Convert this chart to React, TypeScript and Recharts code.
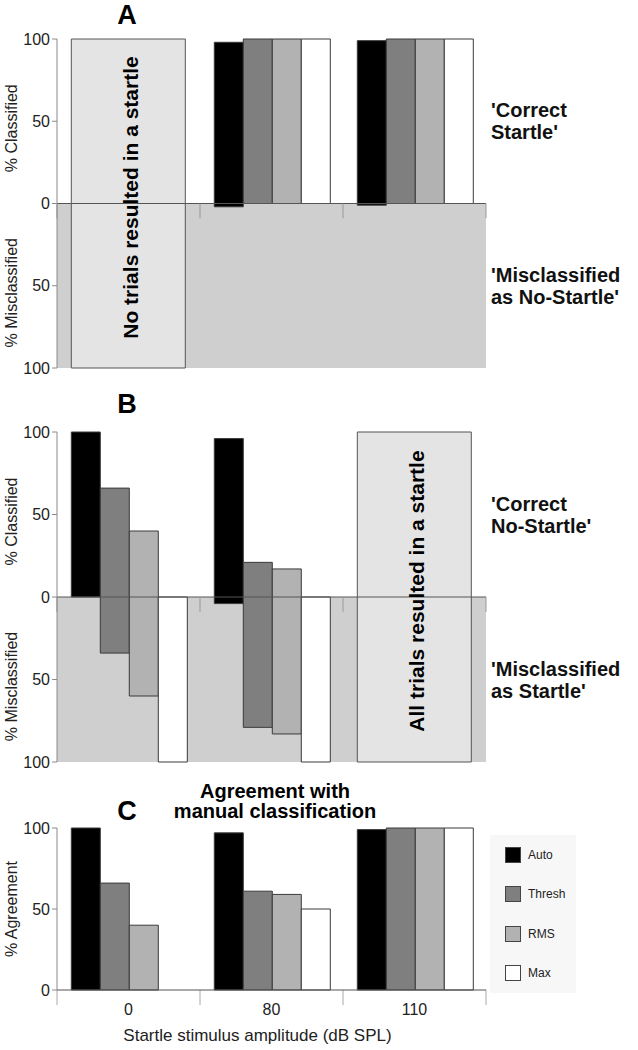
import React from 'react';
import {
  BarChart,
  Bar,
  XAxis,
  YAxis,
  ReferenceArea,
  ReferenceLine,
  Legend,
  LabelList,
} from 'recharts';

const FONT = '"Liberation Sans", Arial, Helvetica, sans-serif';

const amplitudes = ['0', '80', '110'];
const methods = ['Auto', 'Thresh', 'RMS', 'Max'];
const methodKeys = ['auto', 'thresh', 'rms', 'max'];
const methodFills = ['#000000', '#7f7f7f', '#b2b2b2', '#ffffff'];

// A: startle trials, % classified correctly (rest = misclassified as no-startle)
const aAuto = [null, 98, 99];
const aThresh = [null, 100, 100];
const aRms = [null, 100, 100];
const aMax = [null, 100, 100];
const aNote = ['No trials resulted in a startle', null, null];

// B: no-startle trials, % classified correctly (rest = misclassified as startle)
const bAuto = [100, 96, null];
const bThresh = [66, 21, null];
const bRms = [40, 17, null];
const bMax = [0, 0, null];
const bNote = [null, null, 'All trials resulted in a startle'];

// C: % agreement with manual classification
const cAuto = [100, 97, 99];
const cThresh = [66, 61, 100];
const cRms = [40, 59, 100];
const cMax = [0, 50, 100];

const splitTicks = [-100, -50, 0, 50, 100];
const agreeTicks = [0, 50, 100];

// small tick marks sit on the category boundaries
const boundaryTicks = [
  ...amplitudes.map((a) => ({ cat: a, side: 'start' })),
  { cat: amplitudes[amplitudes.length - 1], side: 'end' },
];

// each bar covers 100%: correct part above zero, misclassified part below
function rangeRows(series: (number | null)[][], notes: (string | null)[]) {
  return amplitudes.map((amp, i) => {
    const row: any = { amp, note: notes[i], box: notes[i] ? [-100, 100] : null };
    methodKeys.forEach((k, j) => {
      const v = series[j][i];
      row[k] = v == null ? null : [v - 100, v];
    });
    return row;
  });
}

function plainRows(series: number[][]) {
  return amplitudes.map((amp, i) => {
    const row: any = { amp };
    methodKeys.forEach((k, j) => {
      row[k] = series[j][i];
    });
    return row;
  });
}

const aRows = rangeRows([aAuto, aThresh, aRms, aMax], aNote);
const bRows = rangeRows([bAuto, bThresh, bRms, bMax], bNote);
const cRows = plainRows([cAuto, cThresh, cRms, cMax]);

function LeftTitles(props: any) {
  const { viewBox, titles, shift = 0 } = props;
  if (!viewBox) return null;
  const n = titles.length;
  return (
    <g>
      {titles.map((t: string, i: number) => {
        const cx = viewBox.x + 11;
        const cy = viewBox.y + (viewBox.height * (i + 0.5)) / n + shift;
        return (
          <text
            key={t}
            x={cx}
            y={cy}
            transform={`rotate(-90 ${cx} ${cy})`}
            textAnchor="middle"
            dominantBaseline="central"
            fontSize={16}
            fill="#222"
            fontFamily={FONT}
          >
            {t}
          </text>
        );
      })}
    </g>
  );
}

function RightNotes(props: any) {
  const { viewBox, groups } = props;
  if (!viewBox) return null;
  return (
    <g>
      {groups.map((lines: string[], i: number) => {
        const cy = viewBox.y + (viewBox.height * (i + 0.5)) / groups.length;
        return lines.map((line, k) => (
          <text
            key={line}
            x={viewBox.x + 5}
            y={cy + (k - 0.5) * 22}
            dominantBaseline="central"
            fontSize={20}
            fontWeight="bold"
            fill="#111"
            fontFamily={FONT}
          >
            {line}
          </text>
        ));
      })}
    </g>
  );
}

function BoxText(props: any) {
  const { x, y, width, height, value } = props;
  if (!value) return null;
  const cx = Number(x) + Number(width) / 2;
  const cy = Number(y) + Number(height) / 2;
  return (
    <text
      x={cx}
      y={cy}
      dx={6}
      dy={2}
      transform={`rotate(-90 ${cx} ${cy})`}
      textAnchor="middle"
      dominantBaseline="central"
      fontSize={21}
      fontWeight="bold"
      fill="#000"
      fontFamily={FONT}
    >
      {value}
    </text>
  );
}

function LegendBox(props: any) {
  const { payload } = props;
  return (
    <div style={{ background: '#f7f7f7', width: 86, height: 158, fontFamily: FONT }}>
      {(payload || []).map((p: any) => (
        <div key={p.value} style={{ height: 39.5, display: 'flex', alignItems: 'center', paddingLeft: 15 }}>
          <span
            style={{
              width: 14,
              height: 14,
              background: p.color,
              border: '1px solid #444',
              marginRight: 7,
              display: 'inline-block',
            }}
          />
          <span style={{ fontSize: 12, color: '#222' }}>{p.value}</span>
        </div>
      ))}
    </div>
  );
}

function SplitPanel(props: any) {
  const { rows, notes, height, marginTop, marginBottom } = props;
  return (
    <BarChart
      width={638}
      height={height}
      data={rows}
      margin={{ top: marginTop, right: 0, bottom: marginBottom, left: 0 }}
      barCategoryGap="10%"
      barGap={0}
    >
      <XAxis dataKey="amp" hide />
      <XAxis xAxisId="box" dataKey="amp" hide />
      <YAxis
        domain={[-100, 100]}
        ticks={splitTicks}
        tickFormatter={(v: number) => String(Math.abs(v))}
        width={57}
        tickSize={5}
        stroke="#8a8a8a"
        tick={{ fontSize: 16, fill: '#222', fontFamily: FONT }}
        label={<LeftTitles titles={['% Classified', '% Misclassified']} shift={7} />}
      />
      <YAxis
        yAxisId="r"
        orientation="right"
        width={152}
        domain={[0, 1]}
        tick={false}
        tickLine={false}
        axisLine={false}
        label={<RightNotes groups={notes} />}
      />
      <ReferenceArea y1={-100} y2={0} fill="#cfcfcf" fillOpacity={1} stroke="none" />
      <Bar xAxisId="box" dataKey="box" fill="#e4e4e4" stroke="#555" isAnimationActive={false} legendType="none">
        <LabelList dataKey="note" content={<BoxText />} />
      </Bar>
      {methodKeys.map((k, j) => (
        <Bar key={k} dataKey={k} name={methods[j]} fill={methodFills[j]} stroke="#3a3a3a" isAnimationActive={false} />
      ))}
      <ReferenceLine y={0} stroke="#555" />
      {boundaryTicks.map((b) => (
        <ReferenceLine
          key={b.cat + b.side}
          position={b.side as any}
          segment={[{ x: b.cat, y: 0 }, { x: b.cat, y: -9 }]}
          stroke="#999"
        />
      ))}
    </BarChart>
  );
}

const letterStyle: React.CSSProperties = {
  position: 'absolute',
  left: 0,
  width: 254,
  textAlign: 'center',
  fontSize: 27,
  fontWeight: 'bold',
  lineHeight: '30px',
};

export default function App() {
  return (
    <div style={{ position: 'absolute', left: 0, top: 0, width: 638, height: 1050, background: '#fff', fontFamily: FONT, color: '#000' }}>
      <div style={{ position: 'absolute', left: 0, top: 0 }}>
        <SplitPanel
          rows={aRows}
          notes={[["'Correct", "Startle'"], ["'Misclassified", "as No-Startle'"]]}
          height={380}
          marginTop={39}
          marginBottom={12}
        />
      </div>
      <div style={{ position: 'absolute', left: 0, top: 380 }}>
        <SplitPanel
          rows={bRows}
          notes={[["'Correct", "No-Startle'"], ["'Misclassified", "as Startle'"]]}
          height={395}
          marginTop={52}
          marginBottom={13}
        />
      </div>
      <div style={{ position: 'absolute', left: 0, top: 770 }}>
        <BarChart
          width={638}
          height={280}
          data={cRows}
          margin={{ top: 58, right: 152, bottom: 0, left: 0 }}
          barCategoryGap="10%"
          barGap={0}
        >
          <XAxis
            dataKey="amp"
            height={60}
            tickLine={false}
            stroke="#555"
            tickSize={6}
            tickMargin={8}
            tick={{ fontSize: 16, fill: '#222', fontFamily: FONT }}
            label={{
              value: 'Startle stimulus amplitude (dB SPL)',
              position: 'insideBottom',
              offset: 9,
              dx: -14,
              fontSize: 17,
              fill: '#222',
              fontFamily: FONT,
            }}
          />
          <YAxis
            domain={[0, 100]}
            ticks={agreeTicks}
            width={57}
            tickSize={5}
            stroke="#8a8a8a"
            tick={{ fontSize: 16, fill: '#222', fontFamily: FONT }}
            label={<LeftTitles titles={['% Agreement']} />}
          />
          {methodKeys.map((k, j) => (
            <Bar key={k} dataKey={k} name={methods[j]} fill={methodFills[j]} stroke="#3a3a3a" isAnimationActive={false} />
          ))}
          {boundaryTicks.map((b) => (
            <ReferenceLine
              key={b.cat + b.side}
              position={b.side as any}
              segment={[{ x: b.cat, y: 0 }, { x: b.cat, y: -9.3 }]}
              stroke="#aaa"
              ifOverflow="visible"
            />
          ))}
          <Legend
            layout="vertical"
            align="center"
            verticalAlign="middle"
            itemSorter={(item: any) => methods.indexOf(item.value)}
            wrapperStyle={{ left: 490, top: 65, width: 86, height: 158 }}
            content={<LegendBox />}
          />
        </BarChart>
      </div>
      <div style={{ ...letterStyle, top: 0 }}>A</div>
      <div style={{ ...letterStyle, top: 389 }}>B</div>
      <div style={{ ...letterStyle, top: 796 }}>C</div>
      <div
        style={{
          position: 'absolute',
          left: 150,
          width: 250,
          top: 781,
          textAlign: 'center',
          fontSize: 20,
          fontWeight: 'bold',
          lineHeight: '20px',
        }}
      >
        Agreement with
        <br />
        manual classification
      </div>
    </div>
  );
}
